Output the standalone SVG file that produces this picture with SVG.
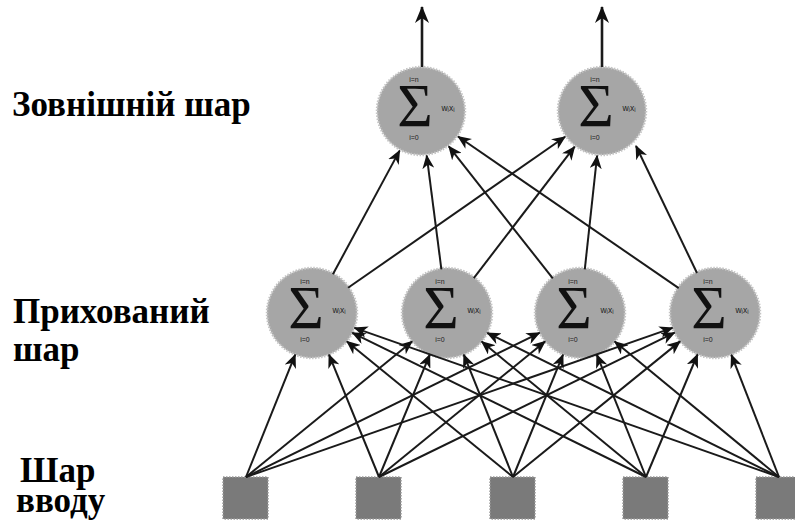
<svg xmlns="http://www.w3.org/2000/svg" width="795" height="531" viewBox="0 0 795 531">
  <style>
    .lbl { font-family: "Liberation Serif", "DejaVu Serif", "Times New Roman", serif; font-weight: 700; font-size: 35px; fill: #000; }
    .neuron { fill: #a6a6a6; stroke: #c4c4c4; stroke-width: 2.5; stroke-dasharray: 1.5 1.5; }
    .inp { fill: #7a7a7a; stroke: #9a9a9a; stroke-width: 1.5; stroke-dasharray: 1.5 1.5; }
    .sig { font-family: "Liberation Serif", "Times New Roman", serif; font-size: 61px; fill: #111; text-anchor: middle; }
    .lim { font-family: "Liberation Sans", Arial, sans-serif; font-size: 7px; fill: #222; text-anchor: middle; }
    .wx { font-family: "Liberation Sans", Arial, sans-serif; font-size: 8.5px; fill: #222; text-anchor: middle; }
    .edge { stroke: #1a1a1a; stroke-width: 2; fill: none; marker-end: url(#ah); }
    .out { stroke: #1a1a1a; stroke-width: 2.6; fill: none; marker-end: url(#ah2); }
  </style>
  <defs>
    <marker id="ah" viewBox="0 0 14 12" refX="13" refY="6" markerWidth="14" markerHeight="12" markerUnits="userSpaceOnUse" orient="auto">
      <path d="M0,0 L14,6 L0,12 L4,6 Z" fill="#111"/>
    </marker>
    <marker id="ah2" viewBox="0 0 17 14" refX="16" refY="7" markerWidth="17" markerHeight="14" markerUnits="userSpaceOnUse" orient="auto">
      <path d="M0,0 L17,7 L0,14 L5,7 Z" fill="#111"/>
    </marker>
  </defs>

  <rect width="795" height="531" fill="#fff"/>

  <!-- layer captions -->
  <g id="captions">
    <text class="lbl" x="12" y="116">Зовнішній шар</text>
    <text class="lbl" x="13" y="323">Прихований</text>
    <text class="lbl" x="13" y="361">шар</text>
    <text class="lbl" x="20" y="482">Шар</text>
    <text class="lbl" x="16" y="512">вводу</text>
  </g>

  <!-- input squares -->
  <g id="in1"><rect class="inp" x="223" y="477" width="45" height="42"/></g>
  <g id="in2"><rect class="inp" x="356" y="477" width="45" height="42"/></g>
  <g id="in3"><rect class="inp" x="490" y="477" width="45" height="42"/></g>
  <g id="in4"><rect class="inp" x="623" y="477" width="45" height="42"/></g>
  <g id="in5"><rect class="inp" x="756" y="477" width="45" height="42"/></g>

  <!-- hidden neurons -->
  <g id="h1">
    <circle class="neuron" cx="312" cy="313" r="45"/>
    <text class="sig" x="306" y="328">Σ</text>
    <text class="lim" x="305" y="284">i=n</text>
    <text class="lim" x="305" y="342">i=0</text>
    <text class="wx" x="339" y="313">wᵢxᵢ</text>
  </g>
  <g id="h2">
    <circle class="neuron" cx="447" cy="313" r="45"/>
    <text class="sig" x="441" y="328">Σ</text>
    <text class="lim" x="440" y="284">i=n</text>
    <text class="lim" x="440" y="342">i=0</text>
    <text class="wx" x="474" y="313">wᵢxᵢ</text>
  </g>
  <g id="h3">
    <circle class="neuron" cx="580" cy="313" r="45"/>
    <text class="sig" x="574" y="328">Σ</text>
    <text class="lim" x="573" y="284">i=n</text>
    <text class="lim" x="573" y="342">i=0</text>
    <text class="wx" x="607" y="313">wᵢxᵢ</text>
  </g>
  <g id="h4">
    <circle class="neuron" cx="715" cy="313" r="45"/>
    <text class="sig" x="709" y="328">Σ</text>
    <text class="lim" x="708" y="284">i=n</text>
    <text class="lim" x="708" y="342">i=0</text>
    <text class="wx" x="742" y="313">wᵢxᵢ</text>
  </g>

  <!-- output neurons -->
  <g id="o1">
    <circle class="neuron" cx="421" cy="111" r="44"/>
    <text class="sig" x="415" y="126">Σ</text>
    <text class="lim" x="414" y="82">i=n</text>
    <text class="lim" x="414" y="140">i=0</text>
    <text class="wx" x="448" y="111">wᵢxᵢ</text>
  </g>
  <g id="o2">
    <circle class="neuron" cx="602" cy="111" r="44"/>
    <text class="sig" x="596" y="126">Σ</text>
    <text class="lim" x="595" y="82">i=n</text>
    <text class="lim" x="595" y="140">i=0</text>
    <text class="wx" x="629" y="111">wᵢxᵢ</text>
  </g>

  <!-- connectors -->
  <g id="connectors">
    <!-- input -> hidden -->
    <line class="edge" x1="246" y1="477" x2="295.2" y2="354.7"/>
    <line class="edge" x1="246" y1="477" x2="412.1" y2="341.4"/>
    <line class="edge" x1="246" y1="477" x2="539.6" y2="332.8"/>
    <line class="edge" x1="246" y1="477" x2="672.5" y2="327.9"/>

    <line class="edge" x1="379" y1="477" x2="329.0" y2="354.6"/>
    <line class="edge" x1="379" y1="477" x2="429.8" y2="354.6"/>
    <line class="edge" x1="379" y1="477" x2="545.1" y2="341.4"/>
    <line class="edge" x1="379" y1="477" x2="674.6" y2="332.7"/>

    <line class="edge" x1="513" y1="477" x2="346.9" y2="341.4"/>
    <line class="edge" x1="513" y1="477" x2="463.8" y2="354.7"/>
    <line class="edge" x1="513" y1="477" x2="563.0" y2="354.6"/>
    <line class="edge" x1="513" y1="477" x2="680.1" y2="341.4"/>

    <line class="edge" x1="646" y1="477" x2="352.4" y2="332.8"/>
    <line class="edge" x1="646" y1="477" x2="481.7" y2="341.6"/>
    <line class="edge" x1="646" y1="477" x2="596.8" y2="354.7"/>
    <line class="edge" x1="646" y1="477" x2="697.5" y2="354.5"/>

    <line class="edge" x1="779" y1="477" x2="354.5" y2="327.9"/>
    <line class="edge" x1="779" y1="477" x2="487.3" y2="332.9"/>
    <line class="edge" x1="779" y1="477" x2="614.7" y2="341.6"/>
    <line class="edge" x1="779" y1="477" x2="731.4" y2="354.9"/>

    <!-- hidden -> output -->
    <line class="edge" x1="332.9" y1="274.3" x2="399.6" y2="150.6"/>
    <line class="edge" x1="348.1" y1="287.8" x2="565.1" y2="136.7"/>
    <line class="edge" x1="441.4" y1="269.4" x2="426.7" y2="155.6"/>
    <line class="edge" x1="473.8" y1="278.1" x2="574.6" y2="146.7"/>
    <line class="edge" x1="552.8" y1="278.4" x2="448.8" y2="146.4"/>
    <line class="edge" x1="584.8" y1="269.3" x2="597.1" y2="155.7"/>
    <line class="edge" x1="678.7" y1="288.1" x2="458.1" y2="136.5"/>
    <line class="edge" x1="697.0" y1="273.0" x2="636.0" y2="146.0"/>

    <!-- outputs -->
    <line class="out" x1="422" y1="67" x2="422" y2="7"/>
    <line class="out" x1="602" y1="67" x2="602" y2="7"/>
  </g>
</svg>
